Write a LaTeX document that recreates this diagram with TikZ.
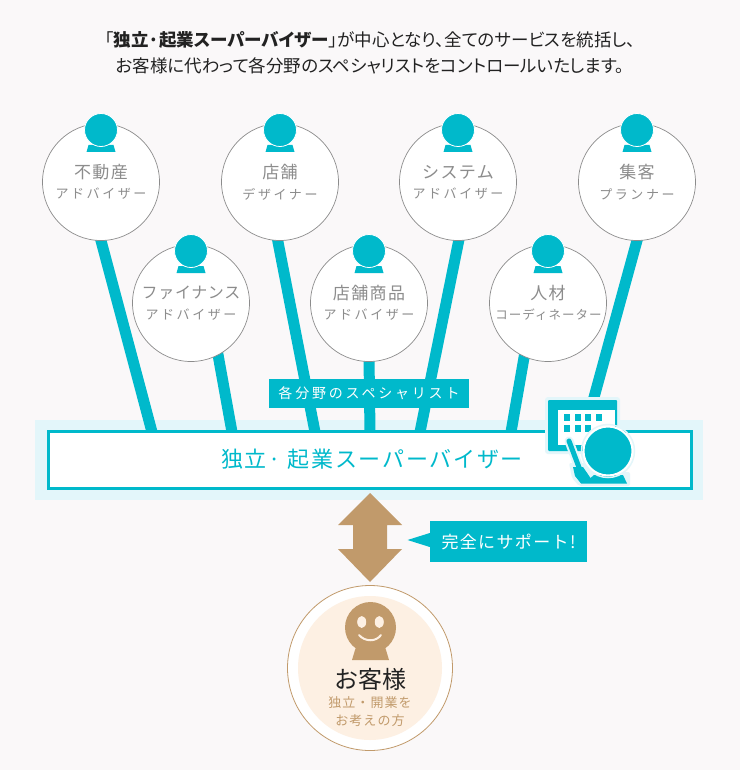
\documentclass[tikz,border=0pt]{standalone}
\usepackage{fontspec}
\setmainfont{Noto Sans CJK JP}
\newfontfamily\cjkspaced[LetterSpace=8]{Noto Sans CJK JP}
\newfontfamily\cjkwide[LetterSpace=20]{Noto Sans CJK JP}
\newfontfamily\cjkprop[RawFeature=+palt]{Noto Sans CJK JP}
\definecolor{teal}{HTML}{00B9CB}
\definecolor{halo}{HTML}{E3F6FA}
\definecolor{pagebg}{HTML}{FAF8F9}
\definecolor{tan}{HTML}{C19A6B}
\definecolor{cream}{HTML}{FDF0E3}
\definecolor{ink}{HTML}{222222}
\definecolor{soft}{HTML}{8C8C8C}
\pgfdeclarelayer{bg}
\pgfdeclarelayer{lines}
\pgfsetlayers{bg,lines,main}
\tikzset{
  x=1pt,y=-1pt,
  adv/.style={circle,draw=soft,line width=0.7pt,fill=white,minimum size=117pt,inner sep=0pt},
  advhead/.style={circle,fill=teal,draw=white,line width=0.8pt,minimum size=33pt,inner sep=0pt},
  advtitle/.style={text=soft,font=\fontsize{17}{17}\selectfont\cjkspaced,inner sep=0pt},
  advsub/.style={text=soft,font=\fontsize{13}{13}\selectfont\cjkwide,inner sep=0pt},
  leadtext/.style={text=ink,font=\fontsize{17.5}{17.5}\selectfont\cjkprop,inner sep=0pt},
  spoke/.style={draw=teal,line width=11pt},
  tag/.style={fill=teal,text=white,inner sep=0pt},
}
\newcommand{\advisor}[6]{%
  \node[adv] (#1) at (#2,#3) {};
  \fill[teal] (#2-14.5,#3-30) -- (#2+14.5,#3-30) -- (#2+12.5,#3-37) -- (#2-12.5,#3-37) -- cycle;
  \node[advhead] (#1h) at (#2,#3-52) {};
  \node[advtitle] (#1t) at (#2,#3-10) {#4};
  \node[advsub] (#1s) at (#2,#3+12) {#5#6};
}
\begin{document}
\begin{tikzpicture}
\useasboundingbox (0,0) rectangle (740,770);
\begin{pgfonlayer}{bg}
  \fill[pagebg] (0,0) rectangle (740,770);
  \fill[halo] (35,420) rectangle (703,500);
\end{pgfonlayer}

\node[leadtext] (lead1) at (370,40)
  {「\textbf{独立·起業スーパーバイザー}」が中心となり、全てのサービスを統括し、};
\node[leadtext] (lead2) at (370,66)
  {お客様に代わって各分野のスペシャリストをコントロールいたします。};

\advisor{a}{101}{182}{不動産}{アドバイザー}{}
\advisor{b}{191}{303}{\addfontfeature{LetterSpace=4}\fontsize{16}{16}\selectfont ファイナンス}{アドバイザー}{}
\advisor{c}{280}{182}{店舗}{デザイナー}{}
\advisor{d}{369}{303}{店舗商品}{アドバイザー}{}
\advisor{e}{458}{182}{システム}{アドバイザー}{}
\advisor{f}{548}{303}{人材}{}{}
\node[text=soft,font=\fontsize{12.5}{12.5}\selectfont\cjkspaced,inner sep=0pt] (fs2) at (548.5,315) {コーディネーター};
\advisor{g}{637}{182}{集客}{プランナー}{}

\node[draw=teal,line width=3pt,fill=white,minimum width=643pt,minimum height=57pt,inner sep=0pt] (bar) at (370,460) {};
\node[text=teal,font=\fontsize{22}{22}\selectfont\cjkspaced,inner sep=0pt] (bart) at (372,459) {独立· 起業スーパーバイザー};

\coordinate (ba) at (152,432);
\coordinate (bb) at (232,432);
\coordinate (bc) at (315,432);
\coordinate (bd) at (370,432);
\coordinate (be) at (420,432);
\coordinate (bf) at (511,432);
\coordinate (bg) at (590,412);
\begin{pgfonlayer}{lines}
  \draw[spoke] ([xshift=-1pt,yshift=4pt]a.south) -- (ba);
  \draw[spoke] ([xshift=26.5pt,yshift=10pt]b.south) -- (bb);
  \draw[spoke] ([xshift=-3pt,yshift=4pt]c.south) -- (bc);
  \draw[spoke] ([yshift=4pt]d.south) -- (bd);
  \draw[spoke] ([xshift=1.5pt,yshift=4pt]e.south) -- (be);
  \draw[spoke] ([xshift=-23pt,yshift=10pt]f.south) -- (bf);
  \draw[spoke] ([xshift=1pt,yshift=4pt]g.south) -- (bg);
\end{pgfonlayer}

\node[tag,font=\fontsize{14}{14}\selectfont\cjkwide,minimum width=200pt,minimum height=29pt] (spec) at (369,393.5) {各分野のスペシャリスト};

% supervisor icon
\fill[halo,rounded corners=3pt] (545,397) rectangle (620,454);
\fill[teal,rounded corners=1pt] (548,400) rectangle (617,451);
\fill[white] (558,410) rectangle (615,445);
\foreach \px in {564,575,585,596}{\fill[teal] (\px,414) rectangle (\px+5.5,421);}
\foreach \px in {564,575,585}{\fill[teal] (\px,425) rectangle (\px+5.5,432);}
\fill[teal] (578,445) rectangle (585,451);
\draw[halo,line width=9pt,line cap=round] (569,441) -- (582,476);
\fill[halo,rounded corners=2pt] (569,463) -- (585,463) -- (593,472) -- (630,472) -- (630,486) -- (579,486) -- (572,478) -- cycle;
\fill[teal] (573,467) -- (583,467) -- (590.5,478) -- (594,475) -- (623,475) -- (627,483.5) -- (581,483.5) -- (575,476) -- cycle;
\draw[teal,line width=5pt,line cap=round] (569,441) -- (580,470);
\node[circle,fill=teal,draw=white,line width=2pt,minimum size=49pt,inner sep=0pt] (chief) at (608,451) {};
\draw[halo,line width=1.5pt] (chief) circle (26.5);

% double arrow
\fill[tan] (370,493) -- (402,525) -- (387,525) -- (387,549) -- (402,549) -- (370,582)
  -- (338,549) -- (353,549) -- (353,525) -- (338,525) -- cycle;

% callout
\node[tag,font=\fontsize{17}{17}\selectfont\cjkspaced,minimum width=157pt,minimum height=41pt] (support) at (508.5,541.5) {完全にサポート!};
\coordinate (ptr) at (407.5,540);
\fill[teal] (ptr) -- (support.west |- 0,533) -- (support.west |- 0,547) -- cycle;

% customer
\node[circle,draw=tan,line width=0.8pt,fill=white,minimum size=165pt,inner sep=0pt] (cust) at (370,668) {};
\node[circle,fill=cream,minimum size=144pt,inner sep=0pt] (custin) at (370,668) {};
\fill[tan] (352,660) -- (389,660) -- (386,650) -- (384,645) -- (357,645) -- (355,650) -- cycle;
\node[circle,fill=tan,minimum size=51pt,inner sep=0pt] (face) at (370.5,627.5) {};
\fill[cream] (361.7,622) ellipse (4.5 and 6);
\fill[cream] (379.3,622) ellipse (4.5 and 6);
\draw[cream,line width=2pt,line cap=round] (359,635) .. controls (365,642) and (376,642) .. (381,635);
\node[text=ink,font=\fontsize{24}{24}\selectfont,inner sep=0pt] (custt) at (370.5,679) {お客様};
\node[text=tan,font=\fontsize{13}{13}\selectfont\cjkspaced,inner sep=0pt] (cust1) at (370,703) {独立・開業を};
\node[text=tan,font=\fontsize{13}{13}\selectfont\cjkspaced,inner sep=0pt] (cust2) at (370,721) {お考えの方};
\end{tikzpicture}
\end{document}
